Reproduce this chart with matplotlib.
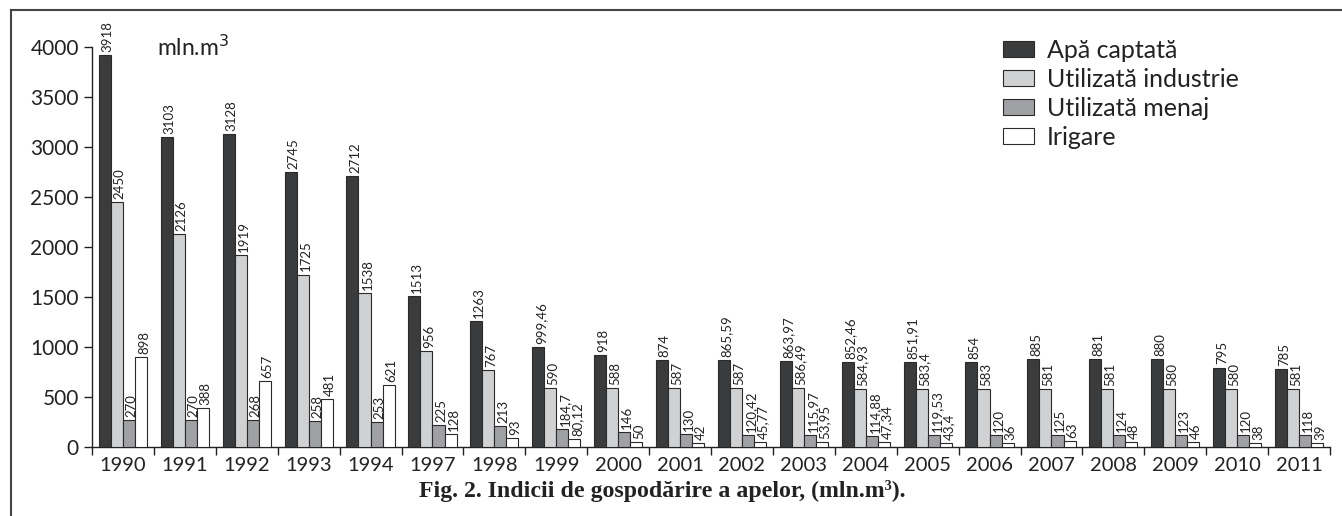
import matplotlib
matplotlib.use("Agg")
import matplotlib.pyplot as plt
import numpy as np
from matplotlib.lines import Line2D

# date
years = ["1990", "1991", "1992", "1993", "1994", "1997", "1998", "1999", "2000", "2001",
         "2002", "2003", "2004", "2005", "2006", "2007", "2008", "2009", "2010", "2011"]
apa_captata = [3918, 3103, 3128, 2745, 2712, 1513, 1263, 999.46, 918, 874,
               865.59, 863.97, 852.46, 851.91, 854, 885, 881, 880, 795, 785]
industrie = [2450, 2126, 1919, 1725, 1538, 956, 767, 590, 588, 587,
             587, 586.49, 584.93, 583.4, 583, 581, 581, 580, 580, 581]
menaj = [270, 270, 268, 258, 253, 225, 213, 184.7, 146, 130,
         120.42, 115.97, 114.88, 119.53, 120, 125, 124, 123, 120, 118]
irigare = [898, 388, 657, 481, 621, 128, 93, 80.12, 50, 42,
           45.77, 53.95, 47.34, 43.4, 36, 63, 48, 46, 38, 39]

series = [
    ("Apă captată", apa_captata, "#3a3b3d"),
    ("Utilizată industrie", industrie, "#d0d1d3"),
    ("Utilizată menaj", menaj, "#a0a1a4"),
    ("Irigare", irigare, "#ffffff"),
]

plt.rcParams['font.family'] = ['Lato', 'DejaVu Sans']

W, H = 1342, 516
fig = plt.figure(figsize=(W / 100, H / 100), dpi=100)
ax = fig.add_axes([92 / W, 1 - 447 / H, (1330 - 92) / W, (447 - 47) / H])

x = np.arange(len(years))
bw = 0.195
for i, (name, vals, col) in enumerate(series):
    pos = x + (i - 1.5) * bw
    ax.bar(pos, vals, width=bw, color=col, edgecolor="#2a2a2a",
           linewidth=0.8, label=name, zorder=3)
    for p, v in zip(pos, vals):
        txt = f"{v:g}".replace(".", ",")
        ax.text(p + 0.03, v + 30, txt, rotation=90, rotation_mode="anchor",
                ha="left", va="center_baseline",
                fontsize=9.5, color="#222222", clip_on=False)

ax.set_xlim(-0.5, len(years) - 0.5)
ax.set_ylim(0, 4000)
ax.set_yticks(np.arange(0, 4001, 500))
ax.tick_params(axis="y", labelsize=15, length=6, width=1, colors="#222222")
ax.set_xticks(x)
ax.set_xticklabels(years)
ax.set_xticks(np.arange(-0.5, len(years), 1), minor=True)
ax.tick_params(axis="x", which="major", length=0, labelsize=14.5, pad=7, colors="#222222")
ax.tick_params(axis="x", which="minor", length=6, width=1, color="#222222")
for s in ["top", "right"]:
    ax.spines[s].set_visible(False)
for s in ["left", "bottom"]:
    ax.spines[s].set_linewidth(1)
    ax.spines[s].set_color("#222222")

ax.text((157 - 92) / (1330 - 92), 1.0, "mln.m$^3$", transform=ax.transAxes, fontsize=16.5,
        ha="left", va="center", color="#222222")

ax.legend(loc="upper left", bbox_to_anchor=((1003 - 92) / (1330 - 92), 1.02),
          frameon=False, fontsize=18, handlelength=1.25, handleheight=0.6,
          labelspacing=0.24, handletextpad=0.5, borderaxespad=0, borderpad=0,
          labelcolor="#222222")

fig.text(662 / W, 1 - 491 / H, "Fig. 2. Indicii de gospodărire a apelor, (mln.m³).",
         family=["Liberation Serif", "DejaVu Serif"], weight="bold", fontsize=17.2,
         ha="center", va="center", color="#222222")

# chenarul figurii
fig.add_artist(Line2D([11 / W, 1], [1 - 10 / H, 1 - 10 / H], color="#444444", lw=1.5))
fig.add_artist(Line2D([11 / W, 11 / W], [0, 1 - 10 / H], color="#444444", lw=1.5))

fig.savefig("out.png", dpi=100)
